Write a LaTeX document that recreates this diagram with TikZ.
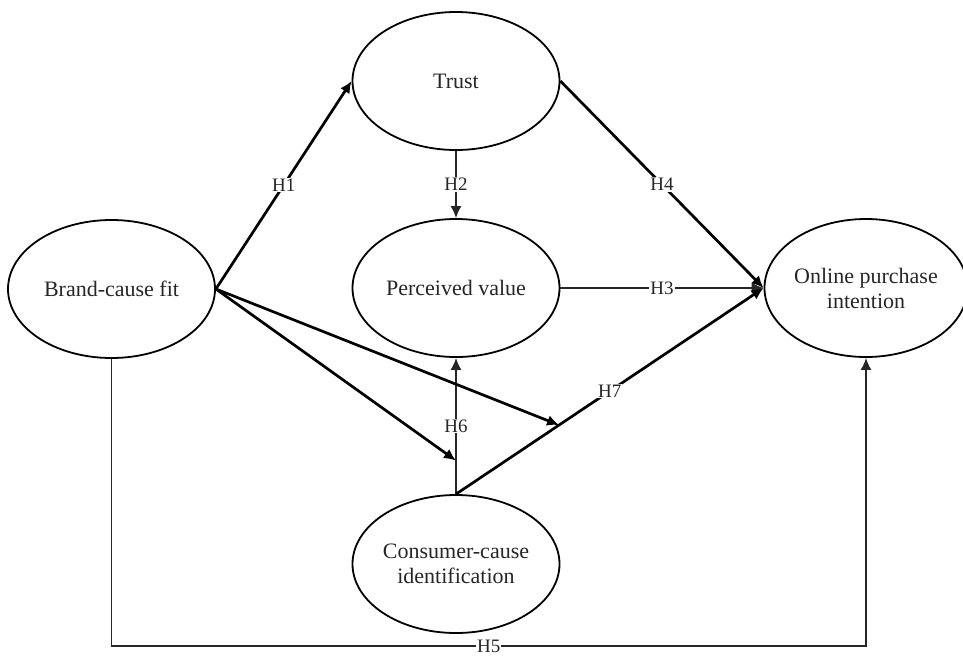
\documentclass[tikz,border=0pt]{standalone}
\usepackage{fontspec}
\setmainfont{Liberation Serif}
\newfontfamily\diagfont{Liberation Serif}
\usetikzlibrary{shapes.geometric,arrows.meta,calc}

\begin{document}
\begin{tikzpicture}[x=1pt,y=-1pt,
  construct/.style={ellipse,draw=black,line width=1.8pt,minimum width=207pt,
    minimum height=138pt,inner sep=0pt,align=center,
    font=\diagfont\fontsize{22}{25}\selectfont,text=black!85},
  thickpath/.style={line width=2.7pt,draw=black,-{Latex[length=12pt,width=11pt]}},
  thinpath/.style={line width=1.6pt,draw=black!85,-{Latex[length=12pt,width=11pt]}},
  hlabel/.style={fill=white,inner sep=1pt,font=\diagfont\fontsize{19}{21}\selectfont,text=black!85}
]
\useasboundingbox (0,0) rectangle (963,657);

% constructs
\node[construct] (trust) at (456,81) {Trust};
\node[construct] (pv) at (456,288) {Perceived value};
\node[construct] (bcf) at (111.5,289) {Brand-cause fit};
\node[construct] (cci) at (456,564) {Consumer-cause\\identification};
\node[construct,minimum width=200pt] (opi) at (866,288) {Online purchase\\intention};

% direct hypotheses
\draw[thickpath] (bcf.east) -- node[hlabel]{H1} (trust.west);
\draw[thinpath] (trust.south) -- node[hlabel]{H2} (pv.north);
\draw[thinpath] (pv.east) -- node[hlabel]{H3} (opi.west);
\draw[thickpath] (trust.east) -- node[hlabel]{H4} (opi.west);

\coordinate (base) at (0,646);
\draw[thinpath] (bcf.south) -- (bcf.south |- base) -| node[hlabel,pos=0.25]{H5} (opi.south);

\draw[thinpath] (cci.north) -- node[hlabel]{H6} (pv.south);
\draw[thickpath] (cci.north) -- node[hlabel]{H7} (opi.west);

% moderating paths onto H6 and H7
\coordinate (m6) at ($(cci.north)!0.246!(pv.south)$);
\coordinate (m7) at ($(cci.north)!0.335!(opi.west)$);
\draw[thickpath] (bcf.east) -- (m6);
\draw[thickpath] (bcf.east) -- (m7);
\end{tikzpicture}
\end{document}
